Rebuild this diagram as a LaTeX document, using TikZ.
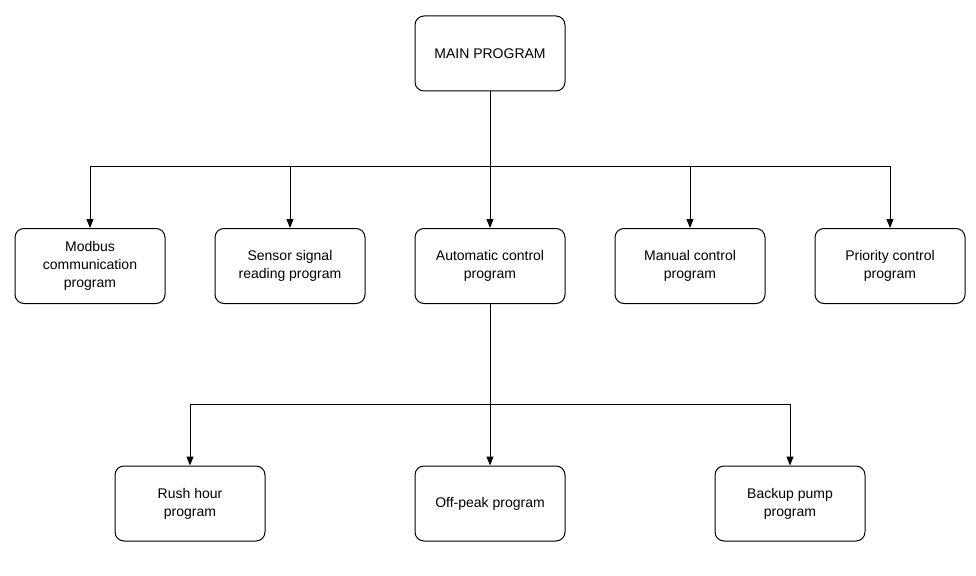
\documentclass[tikz,border=0pt]{standalone}
\usepackage{fontspec}
\setmainfont{Liberation Sans}
\usetikzlibrary{arrows.meta}
\begin{document}
\begin{tikzpicture}[x=1pt,y=-1pt,
  box/.style={draw,rounded corners=9pt,minimum width=150pt,minimum height=75pt,align=center,font=\fontsize{14}{18}\selectfont,line width=1pt},
  arr/.style={-{Triangle[length=9pt,width=7pt]},line width=1pt}]
\useasboundingbox (0,0) rectangle (976,575);
\node[box] (m) at (490,53.5) {MAIN PROGRAM};
\node[box] (a) at (90,266) {Modbus\\communication\\program};
\node[box] (b) at (290,266) {Sensor signal\\reading program};
\node[box] (c) at (490,266) {Automatic control\\program};
\node[box] (d) at (690,266) {Manual control\\program};
\node[box] (e) at (890,266) {Priority control\\program};
\node[box] (f) at (190,503.5) {Rush hour\\program};
\node[box] (g) at (490,503.5) {Off-peak program};
\node[box] (h) at (790,503.5) {Backup pump\\program};
\coordinate (j1) at (490,166);
\coordinate (j2) at (490,404);
\draw[arr] (m) -- (c);
\foreach \t in {a,b,d,e} \draw[arr] (j1) -| (\t);
\draw[arr] (c) -- (g);
\foreach \t in {f,h} \draw[arr] (j2) -| (\t);
\end{tikzpicture}
\end{document}
